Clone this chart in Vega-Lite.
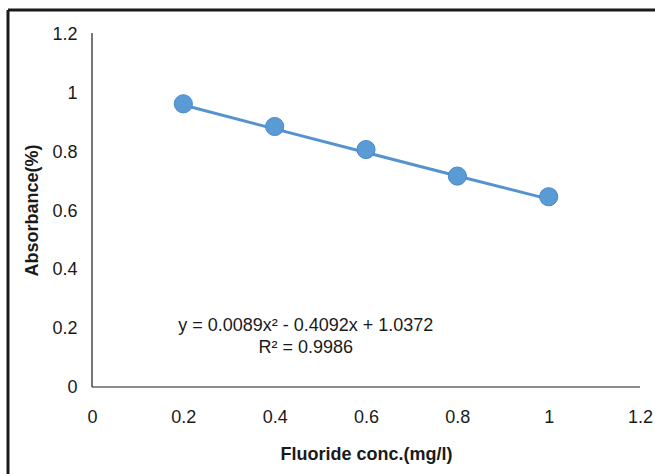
{
  "$schema": "https://vega.github.io/schema/vega-lite/v6.json",
  "width": 647,
  "height": 464,
  "autosize": "none",
  "padding": {"left": 8, "top": 10, "right": 0, "bottom": 0},
  "background": "white",
  "config": {
    "view": {"stroke": null},
    "font": "Liberation Sans",
    "axis": {
      "domain": false,
      "ticks": false,
      "grid": false,
      "labelFont": "Liberation Sans",
      "labelFontSize": 18,
      "labelColor": "#1a1a1a",
      "titleFont": "Liberation Sans",
      "titleFontSize": 18,
      "titleFontWeight": "bold",
      "titleColor": "#1a1a1a",
      "labelOverlap": false,
      "labelBound": false,
      "labelFlush": false,
      "format": "~g"
    }
  },
  "datasets": {
    "points": [
      {"conc": 0.2, "abs": 0.96},
      {"conc": 0.4, "abs": 0.883},
      {"conc": 0.6, "abs": 0.805},
      {"conc": 0.8, "abs": 0.715},
      {"conc": 1.0, "abs": 0.645}
    ],
    "trend": [
      {"conc": 0.2, "abs": 0.9557},
      {"conc": 0.4, "abs": 0.8749},
      {"conc": 0.6, "abs": 0.7949},
      {"conc": 0.8, "abs": 0.7155},
      {"conc": 1.0, "abs": 0.6369}
    ],
    "frame": [
      {"x1": -0.18393, "x2": -0.18393, "y1": -0.29492, "y2": 1.27797},
      {"x1": -0.18393, "x2": 1.23276, "y1": 1.27797, "y2": 1.27797}
    ],
    "axes": [
      {"x1": 0, "x2": 1.2, "y1": 0, "y2": 0},
      {"x1": 0, "x2": 0, "y1": 0, "y2": 1.2}
    ],
    "notes": [
      {"conc": 0.4681, "abs": 0.1908, "label": "y = 0.0089x² - 0.4092x + 1.0372"},
      {"conc": 0.4681, "abs": 0.1142, "label": "R² = 0.9986"}
    ]
  },
  "layer": [
    {
      "data": {"name": "frame"},
      "mark": {"type": "rule", "color": "#1a1a1a", "strokeWidth": 3},
      "encoding": {
        "x": {"field": "x1", "type": "quantitative", "scale": {"domain": [-0.18393, 1.23276], "nice": false, "zero": false}},
        "x2": {"field": "x2"},
        "y": {"field": "y1", "type": "quantitative", "scale": {"domain": [-0.29492, 1.27797], "nice": false, "zero": false}},
        "y2": {"field": "y2"}
      }
    },
    {
      "data": {"name": "axes"},
      "mark": {"type": "rule", "color": "#1a1a1a", "strokeWidth": 1.2},
      "encoding": {
        "x": {"field": "x1", "type": "quantitative"},
        "x2": {"field": "x2"},
        "y": {"field": "y1", "type": "quantitative"},
        "y2": {"field": "y2"}
      }
    },
    {
      "data": {"name": "trend"},
      "mark": {"type": "line", "color": "#5593d0", "strokeWidth": 3},
      "encoding": {
        "x": {"field": "conc", "type": "quantitative"},
        "y": {"field": "abs", "type": "quantitative"}
      }
    },
    {
      "data": {"name": "points"},
      "mark": {"type": "point", "filled": true, "shape": "circle", "size": 330, "color": "#5b9bd5", "opacity": 1, "stroke": "#4a88c7", "strokeWidth": 1},
      "encoding": {
        "x": {"field": "conc", "type": "quantitative",
          "axis": {"orient": "bottom", "offset": -87, "values": [0, 0.2, 0.4, 0.6, 0.8, 1, 1.2], "labelPadding": 21, "title": "Fluoride conc.(mg/l)", "titleX": 358, "titleY": 72, "titleBaseline": "alphabetic", "titleAlign": "center"}},
        "y": {"field": "abs", "type": "quantitative",
          "axis": {"orient": "left", "offset": -84, "values": [0, 0.2, 0.4, 0.6, 0.8, 1, 1.2], "labelPadding": 15, "labelOffset": 1, "title": "Absorbance(%)", "titleX": -55, "titleY": 200, "titleAngle": -90, "titleBaseline": "alphabetic", "titleAlign": "center"}}
      }
    },
    {
      "data": {"name": "notes"},
      "mark": {"type": "text", "fontSize": 18, "color": "#1a1a1a", "align": "center", "baseline": "alphabetic", "font": "Liberation Sans"},
      "encoding": {
        "x": {"field": "conc", "type": "quantitative"},
        "y": {"field": "abs", "type": "quantitative"},
        "text": {"field": "label"}
      }
    }
  ]
}
